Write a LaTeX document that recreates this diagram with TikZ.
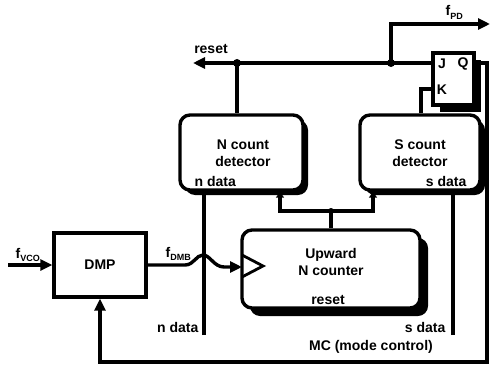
\documentclass[tikz,border=0pt]{standalone}
\usepackage{fontspec}
\setmainfont{Liberation Sans}
\usetikzlibrary{arrows.meta,shadows}
\newcommand\mysubf[1]{\raisebox{-3.5pt}{\bfseries\fontsize{9}{10}\selectfont #1}}
\begin{document}
\begin{tikzpicture}[x=1pt,y=-1pt,
  line width=3.4pt,
  lbl/.style={font=\bfseries\fontsize{14}{17}\selectfont, inner sep=0pt, align=center},
  shad/.style={drop shadow={shadow xshift=#1, shadow yshift=-#1, opacity=1, fill=black}},
  rbox/.style={draw, fill=white, rounded corners=10pt, inner sep=0pt},
  sbox/.style={draw, fill=white, inner sep=0pt},
  arr/.style={-{Triangle[length=12pt,width=11pt]}},
  sarr/.style={-{Triangle[length=6pt,width=8pt]}},
  dot/.style={circle, fill=black, inner sep=0pt, minimum size=8pt},
]
\useasboundingbox (0,0) rectangle (492,369);

% boxes
\node[sbox, minimum width=92pt, minimum height=64pt] (dmp) at (100,265) {};
\node[lbl] (dmpt) at (100,265) {DMP};

\node[rbox, shad=5pt, minimum width=123pt, minimum height=75pt] (ncd) at (241.5,152.5) {};
\node[lbl] (ncdt) at (243,153) {N count\\detector};
\node[lbl, anchor=west] (ncdn) at (193,181) {n data};

\node[rbox, shad=5pt, minimum width=120pt, minimum height=75pt] (scd) at (420,152.5) {};
\node[lbl] (scdt) at (420,153) {S count\\detector};
\node[lbl, anchor=east] (scdn) at (468,181) {s data};

\node[rbox, shad=8pt, minimum width=178pt, minimum height=78pt] (cnt) at (331,269) {};
\node[lbl] (cntt) at (331,262) {Upward\\N counter};
\node[lbl] (cntr) at (328,300) {reset};
\draw[line width=2.8pt, line join=miter] (242,255) -- (263,266) -- (242,277);

\node[sbox, shad=7pt, minimum width=41pt, minimum height=52pt] (jk) at (453.5,79) {};
\node[lbl] (jj) at (442,64) {J};
\node[lbl] (jq) at (463,64) {Q};
\node[lbl] (jkk) at (442,90) {K};

% input fVCO
\coordinate (vin) at (8,265);
\draw[arr] (vin) -- (dmp.west);
\node[lbl, anchor=base west] (fvco) at (14,258) {f\mysubf{VCO}};

% fDMB with hop
\coordinate (hop) at (203,255);
\draw[arr] (dmp.east) -- (185,265) .. controls (194,265) and (196,255) .. (hop)
  .. controls (210,255) and (214,267) .. (224,267) -- (242,267);
\node[lbl, anchor=base west] (fdmb) at (164,257) {f\mysubf{DMB}};

% n data / s data lines
\coordinate (nd) at (204,335);
\draw (nd) -- (nd |- ncd.south);
\node[lbl, anchor=east] (ndl) at (200,327) {n data};
\coordinate (sd) at (453,335);
\draw (sd) -- (sd |- scd.south);
\node[lbl, anchor=east] (sdl) at (447,327) {s data};

% counter to detectors
\coordinate (cj) at (331,211);
\draw (cnt.north) -- (cj);
\draw[sarr] (cj) -| ([xshift=38.5pt]ncd.south);
\draw[sarr] (cj) -| ([xshift=-47pt]scd.south);
\node[dot, minimum size=6pt] (cjd) at (cj) {};

% reset line
\coordinate (rst) at (193,63);
\draw[arr] ([yshift=16pt]jk.west) -- (rst);
\node[lbl, anchor=base] (rstl) at (211,54) {reset};
\coordinate (d1) at (237,63);
\draw (d1) -- (d1 |- ncd.north);
\node[dot] (d1d) at (d1) {};
\coordinate (d2) at (391,63);
\coordinate (fpd) at (490,24);
\draw[arr] (d2) |- (fpd);
\node[dot] (d2d) at (d2) {};
\node[lbl, anchor=base west] (fpdl) at (444,16) {f\mysubf{PD}};

% K input
\coordinate (kc) at (421,89);
\draw (kc |- scd.north) -- (kc) -- ([yshift=-10pt]jk.west);

% Q output / MC feedback
\coordinate (q1) at (487,63);
\coordinate (q2) at (487,362);
\draw[arr] ([yshift=16pt]jk.east) -- (q1) -- (q2) -| (dmp.south);
\node[lbl] (mc) at (371,347) {MC (mode control)};
\end{tikzpicture}
\end{document}
